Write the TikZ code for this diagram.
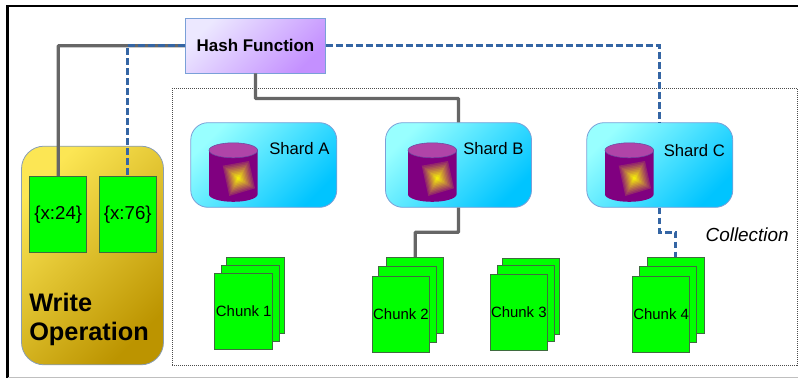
\documentclass[tikz,border=0pt]{standalone}
\usepackage{fontspec}
\setmainfont{Liberation Sans}
\usetikzlibrary{positioning}
\definecolor{greenbox}{HTML}{00FF00}
\definecolor{boxedge}{HTML}{3F6B3F}
\definecolor{wiregray}{HTML}{666666}
\definecolor{wireblue}{HTML}{3465A4}
\definecolor{drumbody}{HTML}{800080}
\definecolor{drumtop}{HTML}{B044A8}
\definecolor{drumrim}{HTML}{6A4AA0}
\definecolor{shardlight}{HTML}{98FFFF}
\definecolor{sharddark}{HTML}{00C4FF}
\definecolor{shardedge}{HTML}{7AA0D8}
\definecolor{hashlight}{HTML}{ECE8FF}
\definecolor{hashdark}{HTML}{C490FF}
\definecolor{writelight}{HTML}{FCE654}
\definecolor{writedark}{HTML}{BC9400}
\definecolor{writeedge}{HTML}{8A9EB4}

\begin{document}
\begin{tikzpicture}[x=0.75pt,y=-0.75pt,
    gray wire/.style={draw=wiregray,line width=2.4pt,rounded corners=0.5pt},
    blue wire/.style={draw=wireblue,line width=2.4pt,dash pattern=on 5pt off 2.5pt},
    key node/.style={rectangle,draw=boxedge,fill=greenbox,line width=0.75pt,inner sep=0pt,
      minimum width=43pt,minimum height=57pt,font=\fontsize{14}{16}\selectfont},
    chunk node/.style={rectangle,draw=boxedge,fill=greenbox,line width=0.75pt,inner sep=0pt,
      minimum width=43.2pt,minimum height=57pt,font=\fontsize{11.2}{13}\selectfont},
    shard node/.style={rectangle,rounded corners=13pt,draw=shardedge,line width=0.6pt,
      top color=shardlight,bottom color=sharddark,shading angle=45,
      minimum width=109.5pt,minimum height=63.5pt},
    label node/.style={anchor=west,inner sep=0pt,font=\fontsize{12.5}{14}\selectfont}]

  \useasboundingbox (0,0) rectangle (798,378);
  \fill[white] (0,0) rectangle (798,378);

  % frame
  \draw[black,line width=1.9pt] (7.5,378) -- (7.5,6) -- (798,6);
  \draw[lightgray,line width=1pt] (8,377.3) -- (798,377.3);

  % collection
  \node[rectangle,draw=black!70,densely dotted,line width=0.5pt,inner sep=0pt,
    minimum width=468.5pt,minimum height=207.5pt] (coll) at (484.75,226.75) {};
  \node[anchor=east,inner sep=0pt,font=\itshape\fontsize{14.2}{16}\selectfont] (colltext) at (789,235) {Collection};

  % write operation
  \node[rectangle,rounded corners=17pt,draw=writeedge,line width=0.6pt,
    top color=writelight,bottom color=writedark,shading angle=45,
    minimum width=106.5pt,minimum height=164pt] (write) at (92.5,255.5) {};
  \node[key node] (x24) at (58.25,214.25) {\{x:24\}};
  \node[key node] (x76) at (127.75,214.25) {\{x:76\}};
  \node[anchor=north west,inner sep=0pt,align=left,
    font=\bfseries\fontsize{19}{22}\selectfont] (writetext) at (29,293) {Write\\Operation};

  % hash function
  \node[rectangle,draw=shardedge,line width=0.6pt,
    top color=hashlight,bottom color=hashdark,shading angle=45,
    minimum width=105pt,minimum height=41pt,font=\bfseries\fontsize{12.7}{14}\selectfont]
    (hash) at (255.5,45.75) {Hash Function};

  % shards
  \node[shard node] (shardA) at (263.75,165) {};
  \node[shard node] (shardB) at (458.5,165) {};
  \node[shard node] (shardC) at (659.75,165) {};
  \coordinate (drumA) at (233.3,172.3);
  \coordinate (drumB) at (432.3,172.3);
  \coordinate (drumC) at (629.3,172.3);
  \foreach \drum in {drumA,drumB,drumC} {
    \fill[drumbody,shift={(\drum)}] (-24.3,-22) -- (-24.3,22)
      arc[start angle=180,end angle=0,x radius=24.3,y radius=7.5] -- (24.3,-22) -- cycle;
    \filldraw[fill=drumtop,draw=drumrim,line width=0.4pt,shift={(\drum)}]
      (0,-22) ellipse[x radius=24.3,y radius=7.5];
    \foreach \i in {10,9,...,1} {
      \pgfmathsetmacro{\glowr}{0.5+0.5*(1-0.085*\i)}
      \pgfmathsetmacro{\glowg}{1-0.085*\i}
      \pgfmathsetmacro{\glowb}{0.5-0.5*(1-0.085*\i)}
      \definecolor{glow}{rgb}{\glowr,\glowg,\glowb}
      \fill[glow,shift={(\drum)},shift={(5,6)},scale=\i/10]
        (-15.6,-12.6) -- (10.7,-17.3) -- (16.7,10) -- (-9,17.7) -- cycle;
    }
  }
  \node[label node] (textA) at (269,149) {Shard A};
  \node[label node] (textB) at (463,148.5) {Shard B};
  \node[label node] (textC) at (663.5,151) {Shard C};

  % chunks
  \node[chunk node] (chunk1c) at (255.75,295.5) {};
  \node[chunk node] (chunk1b) at (250.75,303) {};
  \node[chunk node] (chunk1) at (243.75,311) {Chunk 1};
  \node[chunk node] (chunk2c) at (415.15,295.4) {};
  \node[chunk node] (chunk2b) at (407.75,304.3) {};
  \node[chunk node] (chunk2) at (401,314.2) {Chunk 2};
  \node[chunk node] (chunk3c) at (531,296.2) {};
  \node[chunk node] (chunk3b) at (526,303.6) {};
  \node[chunk node] (chunk3) at (518.85,312.2) {Chunk 3};
  \node[chunk node] (chunk4c) at (675.85,295.4) {};
  \node[chunk node] (chunk4b) at (668.15,304.2) {};
  \node[chunk node] (chunk4) at (661.15,314.3) {Chunk 4};

  % wires
  \draw[gray wire] (hash.west) -| (x24.north);
  \draw[blue wire] (hash.west) -| (x76.north);
  \draw[blue wire] (hash.east) -| (shardC.north);
  \draw[gray wire] (hash.south) -- ++(0,25) -| (shardB.north);
  \draw[gray wire] (shardB.south) -- ++(0,24.5) -| (chunk2c.north);
  \draw[blue wire] (shardC.south) -- ++(0,24.5) -| (chunk4c.north);
\end{tikzpicture}
\end{document}
